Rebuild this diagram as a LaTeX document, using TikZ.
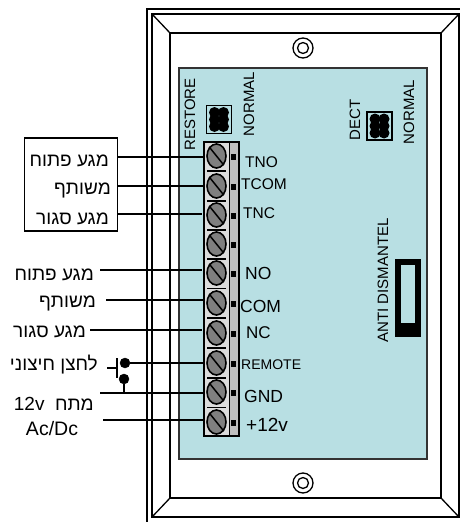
\documentclass[tikz,border=0pt]{standalone}
\usepackage{fontspec}
\setmainfont{Liberation Sans}
\newfontfamily\hebfont[Script=Hebrew]{Liberation Sans}
\TeXXeTstate=1
\definecolor{panelc}{HTML}{B8DFE3}
\definecolor{blockc}{HTML}{DCDCDC}
\definecolor{stripc}{HTML}{BEBEBE}
\definecolor{screwc}{HTML}{7F7F7F}
\newcommand{\heb}[1]{\hebfont\beginR #1\endR}
\usetikzlibrary{shapes.geometric}
\tikzset{
  frameline/.style={draw=black,line width=1.3pt},
  wire/.style={draw=black,line width=1.4pt},
  screw/.style={ellipse,draw=black,line width=1.6pt,fill=screwc,minimum width=19pt,minimum height=24pt,inner sep=0pt},
  hlabel/.style={anchor=base east,inner sep=0pt,font=\fontsize{19}{22}\selectfont},
  tlabel/.style={anchor=base west,inner sep=0pt,font=\fontsize{15.5}{18}\selectfont},
  vlabel/.style={rotate=90,inner sep=0pt,font=\fontsize{15}{18}\selectfont},
  condot/.style={circle,fill=black,draw=black,minimum size=10pt,inner sep=0pt},
}
\begin{document}
\begin{tikzpicture}[x=1pt,y=-1pt]
\useasboundingbox (0,0) rectangle (460,522);
% frame
\draw[line width=2.4pt] (460,9) -- (147,9) -- (147,522);
\draw[frameline,line width=1.6pt] (460,14) -- (152,14) -- (152,517) -- (460,517);
\draw[frameline,line width=1.2pt] (459,14) -- (459,517);
\draw[frameline,line width=1.6pt] (170,33) rectangle (441,498);
\draw[frameline] (152,14) -- (170,33) (459,14) -- (441,33) (152,517) -- (170,498) (459,517) -- (441,498);
% panel
\draw[fill=panelc,draw=black!80,line width=1.5pt] (179,68) rectangle (427,459);
% mounting screws
\foreach \y/\n in {48/a,483/b}{
  \node[circle,draw=black,line width=1.3pt,minimum size=20pt,inner sep=0pt] (m\n) at (303,\y) {};
  \node[circle,draw=black,line width=1.3pt,minimum size=11pt,inner sep=0pt] (mi\n) at (303,\y) {};
}
% wire end points
\coordinate (t1) at (204,157); \coordinate (t2) at (204,186); \coordinate (t3) at (202,214);
\coordinate (t5) at (202,270); \coordinate (t6) at (203,300); \coordinate (t7) at (202,330);
\coordinate (t8) at (206,363); \coordinate (t9) at (204,393); \coordinate (t10) at (204,420);
% left box
\node[draw=black,line width=1.3pt,minimum width=92.5pt,minimum height=93pt,inner sep=0pt] (box) at (71,184.5) {};
\draw[wire] (box.east |- t1) -- (t1);
\draw[wire] (box.east |- t2) -- (t2);
\draw[wire] (box.east |- t3) -- (t3);
\coordinate (l5) at (100,270); \coordinate (l6) at (106,300); \coordinate (l7) at (90,330);
\coordinate (l9) at (100,393); \coordinate (l10) at (103,420);
\draw[wire] (l5) -- (t5);
\draw[wire] (l6) -- (t6);
\draw[wire] (l7) -- (t7);
\draw[wire] (l9) -- (t9);
\draw[wire] (l10) -- (t10);
% switch
\node[condot] (d1) at (125,363) {};
\node[condot] (d2) at (124,379) {};
\draw[wire] (d1) -- (t8);
\draw[wire] (d2) -- (d2 |- l9);
\coordinate (sw1) at (117,358); \coordinate (sw2) at (117,378); \coordinate (sw3) at (107,368);
\draw[wire] (sw1) -- (sw2);
\draw[wire] (sw3) -- (sw3 -| sw1);
% terminal block
\draw[fill=stripc,draw=black,line width=1.3pt] (229.5,142) rectangle (239,436);
\draw[fill=blockc,draw=black,line width=1.3pt] (204,142) rectangle (229.5,436);
\foreach \i/\y in {1/156,2/186,3/215,4/244,5/273,6/303,7/333,8/363,9/392,10/422}{
  \node[screw] (s\i) at (216.5,\y) {};
  \draw[line width=1.5pt] (s\i.north west) -- (s\i.south east);
  \fill[black] (230.5,\y-2.5) rectangle (236,\y+3.5);
}
\foreach \y in {171,201,230,259,288.5,318,348,378,407.5}{
  \draw[line width=1.2pt] (207,\y) -- (226,\y);
}
% jumpers
\foreach \x/\y/\n in {219/119.5/ja,379.5/126/jb}{
  \node[draw=black,line width=1.8pt,fill=panelc,minimum width=25pt,minimum height=28pt,inner sep=0pt] (\n) at (\x,\y) {};
  \foreach \dx in {-4.5,4.5}{
    \foreach \dy in {-7,0,7}{
      \fill[black] (\x+\dx,\y+\dy) circle[x radius=5.5,y radius=5.5];
    }
  }
}
% tamper switch
\draw[fill=panelc,draw=black,line width=6.5pt] (398,262) rectangle (418,333);
\fill[black] (395,323) rectangle (421,337);
% board labels
\node[vlabel] (rest) at (190,114.5) {RESTORE};
\node[vlabel] (norma) at (249,104) {NORMAL};
\node[vlabel] (dect) at (355,120) {DECT};
\node[vlabel] (normb) at (409,112) {NORMAL};
\node[vlabel] (anti) at (383,280.5) {ANTI DISMANTEL};
% terminal labels
\node[tlabel] (ltno) at (245,167) {TNO};
\node[tlabel] (ltcom) at (241,189) {TCOM};
\node[tlabel] (ltnc) at (243,218) {TNC};
\node[tlabel,font=\fontsize{17.5}{20}\selectfont] (lno) at (245,279) {NO};
\node[tlabel,font=\fontsize{17.5}{20}\selectfont] (lcom) at (240,312) {COM};
\node[tlabel,font=\fontsize{17}{20}\selectfont] (lnc) at (246,338) {NC};
\node[tlabel,font=\fontsize{14}{16}\selectfont] (lrem) at (241,369) {REMOTE};
\node[tlabel,font=\fontsize{17.5}{20}\selectfont] (lgnd) at (244,402) {GND};
\node[tlabel,font=\fontsize{19}{22}\selectfont] (l12) at (246,431) {+12v};
% hebrew labels
\node[hlabel] (h1) at (109,166) {\heb{מגע פתוח}};
\node[hlabel] (h2) at (111,194) {\heb{משותף}};
\node[hlabel] (h3) at (109,224) {\heb{מגע סגור}};
\node[hlabel] (h5) at (94,280) {\heb{מגע פתוח}};
\node[hlabel] (h6) at (96,307) {\heb{משותף}};
\node[hlabel] (h7) at (86,337) {\heb{מגע סגור}};
\node[hlabel] (h8) at (98,370) {\heb{לחצן חיצוני}};
\node[hlabel] (h9) at (94,410) {\hebfont\beginR מתח \ \beginL 12v\endL\endR};
\node[inner sep=0pt,anchor=base,font=\fontsize{19.5}{22}\selectfont] (h10) at (52,435) {Ac/Dc};
\end{tikzpicture}
\end{document}
